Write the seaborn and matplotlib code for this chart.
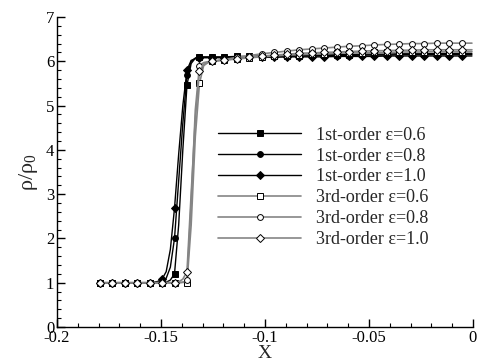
import numpy as np
import pandas as pd
import matplotlib
matplotlib.use("Agg")
import matplotlib.pyplot as plt
import seaborn as sns
from matplotlib.ticker import MultipleLocator

# x positions (cell centres); markers sit on every 0.006
X = [-0.1795, -0.1735, -0.1675, -0.1615, -0.1555,
     -0.1535, -0.1515, -0.1495, -0.1475, -0.1455, -0.1435, -0.1415,
     -0.1395, -0.1375, -0.1355, -0.1335, -0.1315, -0.1295, -0.1275,
     -0.1255, -0.1195, -0.1135, -0.1075, -0.1015, -0.0955, -0.0895,
     -0.0835, -0.0775, -0.0715, -0.0655, -0.0595, -0.0535, -0.0475,
     -0.0415, -0.0355, -0.0295, -0.0235, -0.0175, -0.0115, -0.0055,
     -0.0005]

# marker positions (indices into X)
MARK_IDX = [0, 1, 2, 3, 4, 7, 10, 13, 16, 19, 20, 21, 22, 23, 24, 25, 26,
            27, 28, 29, 30, 31, 32, 33, 34, 35, 36, 37, 38, 39]

first_06 = [1.0, 1.0, 1.0, 1.0, 1.0, 1.0, 1.0, 1.0, 1.01, 1.06, 1.2, 2.3,
            4.0, 5.46, 5.95, 6.07, 6.10, 6.10, 6.10,
            6.10, 6.10, 6.11, 6.11, 6.12, 6.12, 6.13, 6.13, 6.14, 6.14, 6.15,
            6.15, 6.16, 6.16, 6.16, 6.17, 6.17, 6.17, 6.18, 6.18, 6.18, 6.18]
first_08 = [1.0, 1.0, 1.0, 1.0, 1.0, 1.0, 1.01, 1.03, 1.1, 1.35, 2.0, 3.3,
            4.6, 5.68, 6.0, 6.07, 6.09, 6.09, 6.09,
            6.09, 6.09, 6.10, 6.10, 6.11, 6.11, 6.11, 6.12, 6.12, 6.13, 6.13,
            6.13, 6.14, 6.14, 6.14, 6.15, 6.15, 6.15, 6.15, 6.15, 6.15, 6.15]
first_10 = [1.0, 1.0, 1.0, 1.0, 1.0, 1.01, 1.03, 1.08, 1.25, 1.75, 2.68, 3.9,
            5.0, 5.8, 6.02, 6.06, 6.08, 6.08, 6.08,
            6.08, 6.08, 6.08, 6.09, 6.09, 6.09, 6.10, 6.10, 6.10, 6.10, 6.11,
            6.11, 6.11, 6.11, 6.12, 6.12, 6.12, 6.12, 6.12, 6.12, 6.12, 6.12]
third_06 = [1.0, 1.0, 1.0, 1.0, 1.0, 1.0, 1.0, 1.0, 1.0, 1.0, 1.0, 1.0,
            1.01, 1.0, 2.3, 4.3, 5.5, 5.9, 5.97,
            6.00, 6.03, 6.05, 6.08, 6.10, 6.12, 6.14, 6.15, 6.16, 6.17, 6.18,
            6.19, 6.19, 6.20, 6.20, 6.21, 6.21, 6.21, 6.22, 6.22, 6.22, 6.22]
third_08 = [1.0, 1.0, 1.0, 1.0, 1.0, 1.0, 1.0, 1.0, 1.0, 1.0, 1.0, 1.0,
            1.01, 1.05, 2.8, 4.9, 5.9, 5.97, 5.99,
            6.00, 6.04, 6.09, 6.13, 6.17, 6.20, 6.23, 6.26, 6.28, 6.30, 6.32,
            6.34, 6.35, 6.37, 6.38, 6.39, 6.40, 6.40, 6.41, 6.41, 6.41, 6.41]
third_10 = [1.0, 1.0, 1.0, 1.0, 1.0, 1.0, 1.0, 1.0, 1.0, 1.0, 1.0, 1.02,
            1.08, 1.25, 3.0, 4.7, 5.77, 5.93, 5.97,
            6.00, 6.03, 6.06, 6.09, 6.12, 6.14, 6.16, 6.18, 6.19, 6.20, 6.21,
            6.22, 6.23, 6.24, 6.24, 6.25, 6.25, 6.26, 6.26, 6.26, 6.26, 6.26]

SERIES = [
    ("1st-order ε=0.6", first_06, "s", "black", "black"),
    ("1st-order ε=0.8", first_08, "o", "black", "black"),
    ("1st-order ε=1.0", first_10, "D", "black", "black"),
    ("3rd-order ε=0.6", third_06, "s", "white", "#858585"),
    ("3rd-order ε=0.8", third_08, "o", "white", "#858585"),
    ("3rd-order ε=1.0", third_10, "D", "white", "#858585"),
]

sns.set_style("ticks")
plt.rcParams['font.family'] = ['Liberation Serif', 'DejaVu Serif']
plt.rcParams['mathtext.default'] = 'regular'

fig = plt.figure(figsize=(4.85, 3.62), dpi=100)
ax = fig.add_axes([0.1175, 0.0967, 0.8577, 0.8563])

for label, ys, mk, face, lc in SERIES:
    df = pd.DataFrame({"x": X, "y": ys})
    sns.lineplot(data=df, x="x", y="y", ax=ax, sort=False, estimator=None,
                 color=lc, linewidth=1.0 if lc == "black" else 1.2,
                 marker=mk, markevery=MARK_IDX,
                 markersize=4.2 if mk != "D" else 3.8,
                 markerfacecolor=face, markeredgecolor="black",
                 markeredgewidth=0.7, label=label)

ax.set_xlim(-0.2, 0)
ax.set_ylim(0, 7)
ax.xaxis.set_major_locator(MultipleLocator(0.05))
ax.xaxis.set_minor_locator(MultipleLocator(0.01))
ax.yaxis.set_major_locator(MultipleLocator(1))
ax.yaxis.set_minor_locator(MultipleLocator(0.2))
ax.set_xticks([-0.2, -0.15, -0.1, -0.05, 0])
ax.set_xticklabels(["-0.2", "-0.15", "-0.1", "-0.05", "0"])
ax.tick_params(which="major", direction="in", length=6, width=1,
               labelsize=12, color="black", labelcolor="black", pad=2)
ax.tick_params(which="minor", direction="in", length=3, width=0.8, color="black")
for s in ["top", "right"]:
    ax.spines[s].set_visible(False)
for s in ["left", "bottom"]:
    ax.spines[s].set_color("black")
    ax.spines[s].set_linewidth(1.0)

ax.set_xlabel("X", fontsize=14, labelpad=-0.5)
ax.set_ylabel("ρ/ρ$_0$", fontsize=16, labelpad=4)

leg = ax.legend(loc="upper left", bbox_to_anchor=(0.37, 0.67), frameon=False,
                fontsize=13, handlelength=4.6, handletextpad=0.8,
                labelspacing=0.22, borderaxespad=0)

fig.savefig("out.png", dpi=100)
